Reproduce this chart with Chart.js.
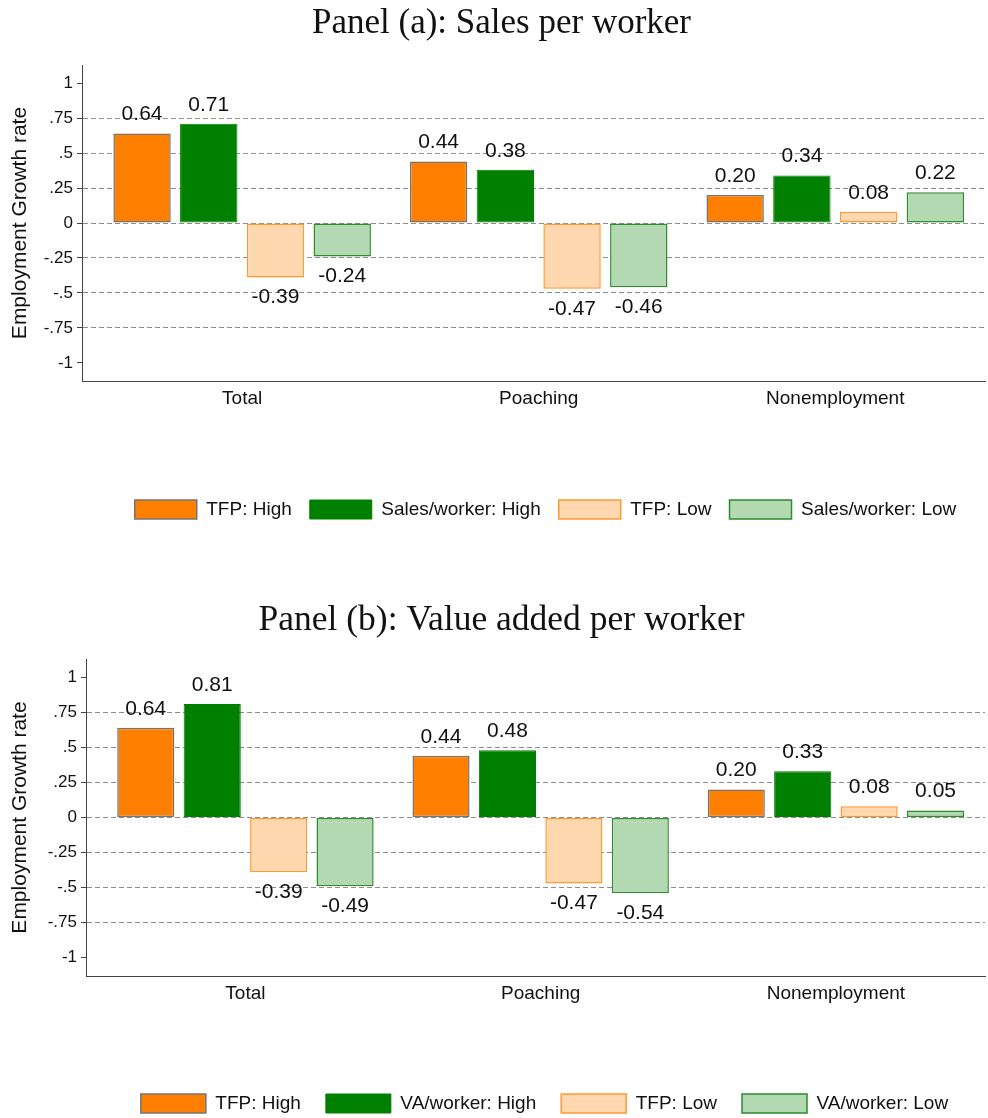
<!DOCTYPE html>
<html>
<head>
<meta charset="utf-8">
<script src="https://cdn.jsdelivr.net/npm/chart.js@4"></script>
<style>
  html, body { margin: 0; padding: 0; background: #fff; overflow: hidden; }
  canvas { display: block; }
</style>
</head>
<body>
<canvas id="panel-a" width="988" height="535"></canvas>
<canvas id="panel-b" width="988" height="588"></canvas>
<script>
// Data
const categories = ['Total', 'Poaching', 'Nonemployment'];

const tfpHigh = [0.64, 0.44, 0.20];
const tfpLow = [-0.39, -0.47, 0.08];
const salesHigh = [0.71, 0.38, 0.34];
const salesLow = [-0.24, -0.46, 0.22];
const vaHigh = [0.81, 0.48, 0.33];
const vaLow = [-0.49, -0.54, 0.05];

const yTicks = [1, 0.75, 0.5, 0.25, 0, -0.25, -0.5, -0.75, -1];
const yTickLabels = ['1', '.75', '.5', '.25', '0', '-.25', '-.5', '-.75', '-1'];

const ORANGE = '#FF8000';
const GREEN = '#008000';
const LIGHT_ORANGE = '#FFD8B0';
const LIGHT_GREEN = '#B3D9B3';

Chart.defaults.font.family = '"Liberation Sans", Arial, sans-serif';
Chart.defaults.color = '#111';

// Draws the value above / below each bar
const valueLabels = {
    id: 'valueLabels',
    afterDatasetsDraw(chart) {
        const ctx = chart.ctx;
        ctx.save();
        ctx.font = '21px "Liberation Sans", Arial, sans-serif';
        ctx.fillStyle = '#111';
        ctx.textAlign = 'center';
        ctx.textBaseline = 'middle';
        chart.data.datasets.forEach((ds, i) => {
            chart.getDatasetMeta(i).data.forEach((bar, j) => {
                const v = ds.data[j].y;
                const y = v >= 0 ? bar.y - 19 : bar.y + 20;
                ctx.fillText(v.toFixed(2), bar.x, y);
            });
        });
        ctx.restore();
    }
};

// Nudges the title and legend sideways (Stata centres them a bit right of the plot)
const blockShift = {
    id: 'blockShift',
    afterLayout(chart, args, opts) {
        const lg = chart.legend;
        if (lg && opts.legendDx) {
            lg.left += opts.legendDx;
            lg.right += opts.legendDx;
        }
        const tb = chart.titleBlock;
        if (tb && opts.titleDx) {
            tb.left += opts.titleDx;
            tb.right += opts.titleDx;
        }
    }
};

function toPoints(values) {
    return values.map((v, i) => ({ x: i, y: v }));
}

function makePanel(canvasId, title, measure, highValues, lowValues, layout) {
    const datasets = [
        {
            label: 'TFP: High',
            data: toPoints(tfpHigh),
            backgroundColor: ORANGE,
            borderColor: '#747474',
            borderWidth: 1.5
        },
        {
            label: measure + ': High',
            data: toPoints(highValues),
            backgroundColor: GREEN,
            borderColor: GREEN,
            borderWidth: 1
        },
        {
            label: 'TFP: Low',
            data: toPoints(tfpLow),
            backgroundColor: LIGHT_ORANGE,
            borderColor: '#FF9933',
            borderWidth: 1.5
        },
        {
            label: measure + ': Low',
            data: toPoints(lowValues),
            backgroundColor: LIGHT_GREEN,
            borderColor: '#2E8B2E',
            borderWidth: 1.5
        }
    ];
    datasets.forEach(ds => {
        ds.borderSkipped = false;
        ds.categoryPercentage = 0.9;
        ds.barPercentage = 0.86;
    });

    const ctx = document.getElementById(canvasId).getContext('2d');
    return new Chart(ctx, {
        type: 'bar',
        data: { datasets: datasets },
        options: {
            responsive: false,
            animation: false,
            devicePixelRatio: 1,
            layout: { padding: { left: 0, right: 3, top: 0, bottom: layout.bottomPad } },
            plugins: {
                title: {
                    display: true,
                    text: title,
                    color: '#111',
                    font: { family: '"Liberation Serif", "Times New Roman", serif', size: layout.titleSize, weight: 'normal' },
                    padding: { top: layout.titleTop, bottom: layout.titleBottom }
                },
                legend: {
                    position: 'bottom',
                    fullSize: false,
                    labels: {
                        boxWidth: layout.boxWidth,
                        boxHeight: 19,
                        padding: layout.legendPad,
                        color: '#111',
                        font: { size: 19 }
                    }
                },
                blockShift: { legendDx: layout.legendDx, titleDx: 9 },
                tooltip: { enabled: false }
            },
            scales: {
                x: {
                    type: 'linear',
                    offset: false,
                    min: -0.54,
                    max: 2.505,
                    afterBuildTicks: scale => {
                        scale.ticks = categories.map((c, i) => ({ value: i }));
                    },
                    afterFit: scale => { scale.height = layout.xAxisHeight; },
                    ticks: {
                        autoSkip: false,
                        maxRotation: 0,
                        padding: 6,
                        color: '#111',
                        font: { size: 19 },
                        callback: value => categories[value]
                    },
                    grid: { offset: false, drawOnChartArea: false, drawTicks: false },
                    border: { color: '#444', width: 1 }
                },
                y: {
                    min: -1.13,
                    max: 1.13,
                    afterBuildTicks: scale => {
                        scale.ticks = yTicks.map(v => ({ value: v }));
                    },
                    afterFit: scale => { scale.width = layout.yAxisWidth; },
                    ticks: {
                        padding: 4,
                        color: '#111',
                        font: { size: 17 },
                        callback: (value, index) => yTickLabels[index]
                    },
                    grid: {
                        color: c => (c.tick && Math.abs(c.tick.value) === 1) ? 'rgba(0,0,0,0)' : '#8c8c8c',
                        lineWidth: 1,
                        tickLength: 5,
                        tickColor: '#444'
                    },
                    border: { color: '#444', width: 1, dash: [5, 3] },
                    title: {
                        display: true,
                        text: 'Employment Growth rate',
                        color: '#111',
                        font: { size: 21 },
                        padding: { top: 8, bottom: 0 }
                    }
                }
            }
        },
        plugins: [valueLabels, blockShift]
    });
}

makePanel('panel-a', 'Panel (a): Sales per worker', 'Sales/worker', salesHigh, salesLow, {
    titleSize: 35, titleTop: 3, titleBottom: 20,
    yAxisWidth: 82, xAxisHeight: 101, bottomPad: 6,
    boxWidth: 62, legendPad: 18, legendDx: 12
});

makePanel('panel-b', 'Panel (b): Value added per worker', 'VA/worker', vaHigh, vaLow, {
    titleSize: 35.5, titleTop: 64.2, titleBottom: 17.2,
    yAxisWidth: 86, xAxisHeight: 93, bottomPad: 0,
    boxWidth: 65, legendPad: 25, legendDx: 9
});
</script>
</body>
</html>
